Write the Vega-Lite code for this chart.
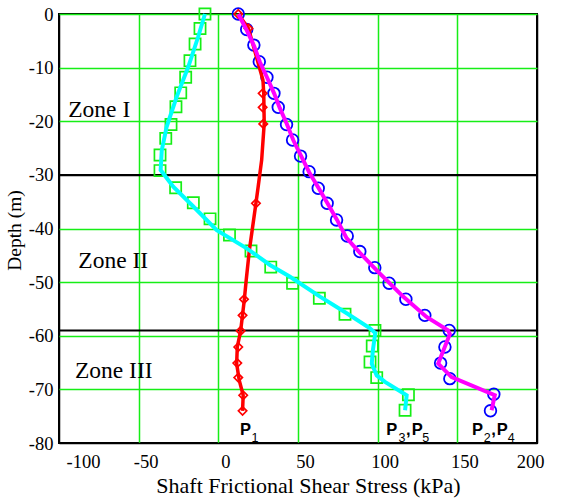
{
  "$schema": "https://vega.github.io/schema/vega-lite/v6.json",
  "width": 478,
  "height": 429,
  "autosize": "none",
  "padding": {"left": 59, "top": 14, "right": 24, "bottom": 56},
  "background": "white",
  "config": {
    "view": {"stroke": "black", "strokeWidth": 2},
    "font": "Liberation Serif"
  },
  "datasets": {
    "cyan": [
      {"i": 1, "x": -8.4, "y": 0}, {"i": 2, "x": -12.6, "y": -4.2}, {"i": 3, "x": -18.8, "y": -9.8},
      {"i": 4, "x": -26.1, "y": -15.4}, {"i": 5, "x": -32.4, "y": -21.0}, {"i": 6, "x": -35.5, "y": -25.4},
      {"i": 7, "x": -36.2, "y": -29.1}, {"i": 8, "x": -28.3, "y": -32.2}, {"i": 9, "x": -15.7, "y": -35.9},
      {"i": 10, "x": -1.0, "y": -40.3}, {"i": 11, "x": 17.8, "y": -43.7}, {"i": 12, "x": 32.4, "y": -46.8},
      {"i": 13, "x": 45.0, "y": -49.0}, {"i": 14, "x": 63.8, "y": -52.7}, {"i": 15, "x": 80.6, "y": -55.8},
      {"i": 16, "x": 95.2, "y": -58.6}, {"i": 17, "x": 98.5, "y": -59.5}, {"i": 18, "x": 97.0, "y": -62.7},
      {"i": 19, "x": 96.3, "y": -65.2}, {"i": 20, "x": 99.4, "y": -67.4}, {"i": 21, "x": 104.6, "y": -68.6},
      {"i": 22, "x": 118.2, "y": -71.1}, {"i": 23, "x": 117.2, "y": -73.9}
    ],
    "squares": [
      {"x": -8.4, "y": 0}, {"x": -11.5, "y": -2.7}, {"x": -14.6, "y": -5.6}, {"x": -17.8, "y": -8.7},
      {"x": -20.5, "y": -11.8}, {"x": -23.6, "y": -14.7}, {"x": -26.6, "y": -17.3}, {"x": -29.7, "y": -20.6},
      {"x": -33.0, "y": -23.2}, {"x": -36.6, "y": -26.3}, {"x": -36.6, "y": -29.2}, {"x": -26.8, "y": -32.4},
      {"x": -15.7, "y": -35.2}, {"x": -5.2, "y": -38.2}, {"x": 7.0, "y": -41.2}, {"x": 20.5, "y": -44.2},
      {"x": 32.9, "y": -47.2}, {"x": 46.6, "y": -50.2}, {"x": 63.4, "y": -53.0}, {"x": 79.5, "y": -56.0},
      {"x": 98.3, "y": -59.0}, {"x": 96.6, "y": -61.9}, {"x": 95.2, "y": -64.9}, {"x": 99.4, "y": -67.8},
      {"x": 119.3, "y": -71.0}, {"x": 117.2, "y": -73.9}
    ],
    "magenta": [
      {"i": 1, "x": 12.5, "y": 0}, {"i": 2, "x": 17.8, "y": -3}, {"i": 3, "x": 22.5, "y": -6},
      {"i": 4, "x": 26, "y": -8.9}, {"i": 5, "x": 30.5, "y": -11.8}, {"i": 6, "x": 35, "y": -14.8},
      {"i": 7, "x": 38.5, "y": -17.5}, {"i": 8, "x": 43, "y": -20.5}, {"i": 9, "x": 47, "y": -23.5},
      {"i": 10, "x": 52, "y": -26.5}, {"i": 11, "x": 57, "y": -29.5}, {"i": 12, "x": 63, "y": -32.5},
      {"i": 13, "x": 68.5, "y": -35.3}, {"i": 14, "x": 74.5, "y": -38.4}, {"i": 15, "x": 80.5, "y": -41.8},
      {"i": 16, "x": 89, "y": -44.6}, {"i": 17, "x": 101.4, "y": -48.4}, {"i": 18, "x": 116, "y": -52.7},
      {"i": 19, "x": 130.7, "y": -56.5}, {"i": 20, "x": 144.2, "y": -59.0}, {"i": 21, "x": 145.3, "y": -59.7},
      {"i": 22, "x": 138, "y": -65.2}, {"i": 23, "x": 146.4, "y": -67.7}, {"i": 24, "x": 173.5, "y": -71.1},
      {"i": 25, "x": 171.5, "y": -73.9}
    ],
    "circles": [
      {"x": 12.5, "y": 0}, {"x": 17.8, "y": -2.9}, {"x": 22.3, "y": -5.8}, {"x": 25.7, "y": -8.9},
      {"x": 30.5, "y": -11.8}, {"x": 34.9, "y": -14.8}, {"x": 37.6, "y": -17.4}, {"x": 42.8, "y": -20.6},
      {"x": 46.6, "y": -23.5}, {"x": 51.6, "y": -26.5}, {"x": 57.0, "y": -29.4}, {"x": 62.7, "y": -32.5},
      {"x": 68.3, "y": -35.3}, {"x": 74.2, "y": -38.4}, {"x": 80.9, "y": -41.4}, {"x": 88.8, "y": -44.3},
      {"x": 98.2, "y": -47.3}, {"x": 107.2, "y": -50.2}, {"x": 117.7, "y": -53.2}, {"x": 129.6, "y": -56.2},
      {"x": 144.9, "y": -59.0}, {"x": 142.2, "y": -62.1}, {"x": 139.5, "y": -65.1}, {"x": 145.3, "y": -68.0},
      {"x": 172.9, "y": -70.9}, {"x": 170.8, "y": -74.0}
    ],
    "red": [
      {"i": 1, "x": 12.5, "y": 0}, {"i": 2, "x": 18.9, "y": -2.7}, {"i": 3, "x": 28.0, "y": -12.3},
      {"i": 4, "x": 28.5, "y": -14.8}, {"i": 5, "x": 28.8, "y": -20.4}, {"i": 6, "x": 27.2, "y": -27.2},
      {"i": 7, "x": 25.0, "y": -32.2}, {"i": 8, "x": 23.6, "y": -35.3}, {"i": 9, "x": 19.5, "y": -44.0},
      {"i": 10, "x": 17.5, "y": -49.6}, {"i": 11, "x": 16.3, "y": -53.3}, {"i": 12, "x": 14.0, "y": -59.1},
      {"i": 13, "x": 11.9, "y": -62.1}, {"i": 14, "x": 11.5, "y": -65.2}, {"i": 15, "x": 13.1, "y": -68.3},
      {"i": 16, "x": 15.6, "y": -71.1}, {"i": 17, "x": 15.2, "y": -74.0}
    ],
    "diamonds": [
      {"x": 12.5, "y": 0}, {"x": 18.9, "y": -2.7}, {"x": 27.8, "y": -14.8}, {"x": 27.8, "y": -17.4},
      {"x": 28.2, "y": -20.5}, {"x": 23.6, "y": -35.3}, {"x": 16.1, "y": -53.2}, {"x": 15.2, "y": -56.2},
      {"x": 14.0, "y": -59.1}, {"x": 12.5, "y": -62.1}, {"x": 11.9, "y": -65.1}, {"x": 12.5, "y": -67.8},
      {"x": 15.6, "y": -71.1}, {"x": 15.2, "y": -74.0}
    ],
    "zones": [
      {"y": -30}, {"y": -59}
    ],
    "zonelabels": [
      {"x": -94.2, "y": -19.2, "t": "Zone I"},
      {"x": -87.9, "y": -47.4, "t": "Zone II"},
      {"x": -90.0, "y": -67.8, "t": "Zone III"}
    ],
    "plabels": [
      {"x": 17.0, "y": -78.55, "t": "P"},
      {"x": 108.9, "y": -78.55, "t": "P"},
      {"x": 119.3, "y": -78.55, "t": ","},
      {"x": 124.9, "y": -78.55, "t": "P"},
      {"x": 162.7, "y": -78.55, "t": "P"},
      {"x": 172.8, "y": -78.55, "t": ","},
      {"x": 178.2, "y": -78.55, "t": "P"}
    ],
    "psubs": [
      {"x": 23.0, "y": -79.8, "t": "1"},
      {"x": 115.3, "y": -79.8, "t": "3"},
      {"x": 130.2, "y": -79.8, "t": "5"},
      {"x": 168.7, "y": -79.8, "t": "2"},
      {"x": 183.8, "y": -79.8, "t": "4"}
    ]
  },
  "encoding": {
    "x": {
      "field": "x", "type": "quantitative",
      "scale": {"domain": [-100, 200], "nice": false, "zero": false},
      "axis": {
        "values": [-100, -50, 0, 50, 100, 150, 200],
        "labelExpr": "'' + datum.value",
        "labelFont": "Liberation Serif",
        "labelFontSize": 18.5,
        "labelColor": "black",
        "labelPadding": 9,
        "labelOffset": 7,
        "tickSize": 0,
        "domain": false,
        "gridWidth": 1.5,
        "gridOpacity": 1,
        "gridColor": {"condition": {"test": "datum.value == -100 || datum.value == 200", "value": "black"}, "value": "#16ee16"},
        "title": "Shaft Frictional Shear Stress (kPa)",
        "titleFont": "Liberation Serif",
        "titleFontWeight": "normal",
        "titleColor": "black",
        "titleFontSize": 22,
        "titleBaseline": "alphabetic",
        "titleX": 249,
        "titleY": 49,
        "titleAlign": "center"
      }
    },
    "y": {
      "field": "y", "type": "quantitative",
      "scale": {"domain": [-80, 0], "nice": false, "zero": false},
      "axis": {
        "values": [-80, -70, -60, -50, -40, -30, -20, -10, 0],
        "labelExpr": "'' + datum.value",
        "labelFont": "Liberation Serif",
        "labelFontSize": 18.5,
        "labelColor": "black",
        "labelPadding": 6,
        "tickSize": 0,
        "domain": false,
        "gridWidth": 1.5,
        "gridOpacity": 1,
        "gridColor": {"condition": {"test": "datum.value == -80 || datum.value == -30", "value": "black"}, "value": "#16ee16"},
        "title": "Depth (m)",
        "titleFont": "Liberation Serif",
        "titleFontWeight": "normal",
        "titleColor": "black",
        "titleFontSize": 19.5,
        "titleBaseline": "alphabetic",
        "titleX": -39,
        "titleY": 216,
        "titleAngle": -90,
        "titleAlign": "center"
      }
    }
  },
  "layer": [
    {
      "data": {"name": "zones"},
      "mark": {"type": "rule", "color": "black", "strokeWidth": 2},
      "encoding": {"y": {"field": "y", "type": "quantitative"}, "x": null}
    },
    {
      "data": {"name": "squares"},
      "mark": {"type": "point", "shape": "square", "filled": false, "color": "#16ee16", "size": 125, "strokeWidth": 1.7, "opacity": 1}
    },
    {
      "data": {"name": "circles"},
      "mark": {"type": "point", "shape": "circle", "filled": false, "color": "#0000ff", "size": 135, "strokeWidth": 1.8, "opacity": 1}
    },
    {
      "data": {"name": "diamonds"},
      "mark": {"type": "point", "shape": "diamond", "filled": false, "color": "#ff0000", "size": 70, "strokeWidth": 1.7, "opacity": 1}
    },
    {
      "data": {"name": "red"},
      "mark": {"type": "line", "color": "#ff0000", "strokeWidth": 3.5},
      "encoding": {"order": {"field": "i", "type": "quantitative"}}
    },
    {
      "data": {"name": "cyan"},
      "mark": {"type": "line", "color": "#00ffff", "strokeWidth": 4},
      "encoding": {"order": {"field": "i", "type": "quantitative"}}
    },
    {
      "data": {"name": "magenta"},
      "mark": {"type": "line", "color": "#ff00ff", "strokeWidth": 4},
      "encoding": {"order": {"field": "i", "type": "quantitative"}}
    },
    {
      "data": {"name": "zonelabels"},
      "mark": {"type": "text", "font": "Liberation Serif", "fontSize": 23.5, "align": "left", "baseline": "alphabetic", "color": "black"},
      "encoding": {"text": {"field": "t"}}
    },
    {
      "data": {"name": "plabels"},
      "mark": {"type": "text", "font": "Liberation Sans", "fontWeight": "bold", "fontSize": 16.5, "align": "center", "baseline": "alphabetic", "color": "black"},
      "encoding": {"text": {"field": "t"}}
    },
    {
      "data": {"name": "psubs"},
      "mark": {"type": "text", "font": "Liberation Sans", "fontSize": 12.5, "align": "center", "baseline": "alphabetic", "color": "black"},
      "encoding": {"text": {"field": "t"}}
    }
  ]
}
